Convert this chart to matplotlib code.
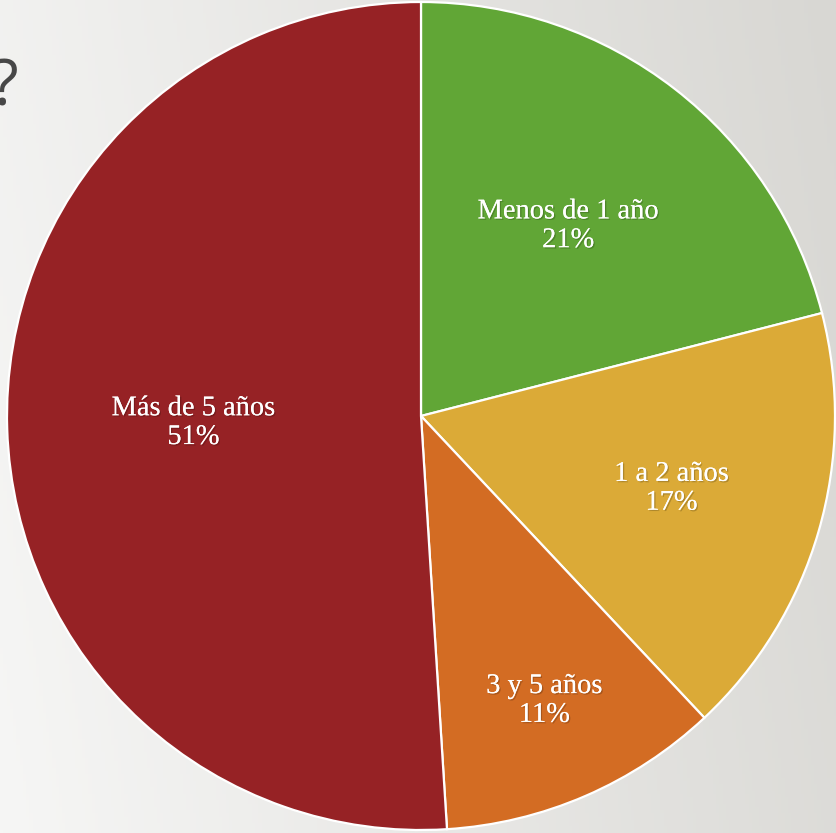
import numpy as np
import matplotlib.pyplot as plt
import matplotlib.patheffects as pe

labels = ['Menos de 1 año', '1 a 2 años', '3 y 5 años', 'Más de 5 años']
values = [21, 17, 11, 51]
colors = ['#61a636', '#dbaa37', '#d36c23', '#962225']
label_r = [0.58, 0.63, 0.75, 0.55]

W, H = 837, 833
fig = plt.figure(figsize=(W / 100, H / 100), dpi=100)
ax = fig.add_axes([0, 0, 1, 1])
ax.set_xlim(0, W)
ax.set_ylim(0, H)
ax.axis('off')

# fondo degradado
g = np.linspace(0, 1, 256)
gx, gy = np.meshgrid(g, g)
t = np.clip(0.85 * gx + 0.15 * (1 - gy), 0, 1)
c0 = np.array([246, 246, 245]) / 255
c1 = np.array([216, 215, 211]) / 255
bg = c0 + (c1 - c0) * t[..., None]
ax.imshow(bg, extent=[0, W, 0, H], origin='upper', aspect='auto', zorder=0)

cx, cy, r = 421, 417, 414
wedges, _ = ax.pie(values, colors=colors, startangle=90, counterclock=False,
                   center=(cx, cy), radius=r, frame=True,
                   wedgeprops=dict(edgecolor='white', linewidth=1.6))
ax.set_xlim(0, W)
ax.set_ylim(0, H)
ax.set_aspect('equal')
ax.axis('off')

shadow = [pe.withSimplePatchShadow(offset=(1, -1), shadow_rgbFace='black', alpha=0.2), pe.Normal()]
for w, lab, v, lr in zip(wedges, labels, values, label_r):
    ang = np.deg2rad((w.theta1 + w.theta2) / 2)
    x = cx + lr * r * np.cos(ang)
    y = cy + lr * r * np.sin(ang)
    ax.text(x, y, f'{lab}\n{v}%', ha='center', va='center', color='white',
            fontsize=20.5, family='Liberation Serif', linespacing=1.2,
            path_effects=shadow, zorder=5)

# resto del título, cortado en el borde
fig.text(18 / W, 1 - 88 / H, '?', ha='right', va='center', fontsize=46,
         color='#474747', family='Open Sans')

fig.savefig('out.png', dpi=100)
